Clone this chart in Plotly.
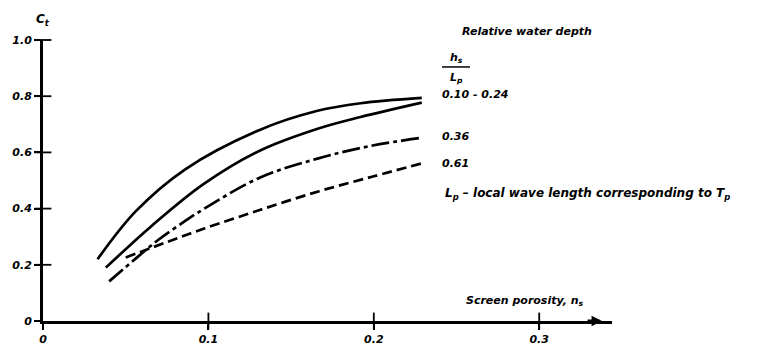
import plotly.graph_objects as go

# ---- data ----
x_010 = [0.033, 0.056, 0.086, 0.131, 0.166, 0.192, 0.229]
y_010 = [0.220, 0.390, 0.540, 0.680, 0.748, 0.775, 0.794]

x_024 = [0.038, 0.066, 0.097, 0.131, 0.167, 0.192, 0.229]
y_024 = [0.190, 0.340, 0.487, 0.606, 0.686, 0.726, 0.777]

x_036 = [0.040, 0.056, 0.070, 0.086, 0.097, 0.131, 0.166, 0.198, 0.229]
y_036 = [0.141, 0.222, 0.290, 0.356, 0.398, 0.510, 0.578, 0.623, 0.652]

x_061 = [0.050, 0.080, 0.097, 0.131, 0.167, 0.200, 0.229]
y_061 = [0.226, 0.292, 0.328, 0.395, 0.462, 0.515, 0.561]

x_tickvals = [0, 0.1, 0.2, 0.3]
x_ticktext = ["0", "0.1", "0.2", "0.3"]
y_tickvals = [0, 0.2, 0.4, 0.6, 0.8, 1.0]
y_ticktext = ["0", "0.2", "0.4", "0.6", "0.8", "1.0"]

series_labels = ["0.10 - 0.24", "0.36", "0.61"]

# ---- layout geometry ----
W, H = 760, 358
ML, MR, MT, MB = 43, 148, 40, 26
PW = W - ML - MR
PH = H - MT - MB


def px(xp):
    return (xp - ML) / PW


def py(yp):
    return (H - MB - yp) / PH


FONT = dict(family="DejaVu Sans, Liberation Sans, sans-serif", size=11, color="black",
            weight="bold", style="italic")
LW = 2.7

fig = go.Figure()
fig.add_trace(go.Scatter(x=x_010, y=y_010, mode="lines", line=dict(color="black", width=LW, shape="spline"),
                         showlegend=False, hoverinfo="skip"))
fig.add_trace(go.Scatter(x=x_024, y=y_024, mode="lines", line=dict(color="black", width=LW, shape="spline"),
                         showlegend=False, hoverinfo="skip"))
fig.add_trace(go.Scatter(x=x_036, y=y_036, mode="lines",
                         line=dict(color="black", width=LW, shape="spline", dash="18px,4px,4px,4px"),
                         showlegend=False, hoverinfo="skip"))
fig.add_trace(go.Scatter(x=x_061, y=y_061, mode="lines",
                         line=dict(color="black", width=LW, shape="spline", dash="10px,5px"),
                         showlegend=False, hoverinfo="skip"))

# tick marks that cross the axes (centred markers at the tick values)
fig.add_trace(go.Scatter(x=x_tickvals[1:], y=[0] * (len(x_tickvals) - 1), mode="markers",
                         marker=dict(symbol="line-ns-open", size=12, color="black",
                                     line=dict(color="black", width=1.8)),
                         cliponaxis=False, showlegend=False, hoverinfo="skip"))
fig.add_trace(go.Scatter(x=[0] * (len(y_tickvals) - 1), y=y_tickvals[1:], mode="markers",
                         marker=dict(symbol="line-ew-open", size=12, color="black",
                                     line=dict(color="black", width=1.8)),
                         cliponaxis=False, showlegend=False, hoverinfo="skip"))

xr = [0, 0.344]
yr = [0, 1.0]
common_ax = dict(showgrid=False, zeroline=False, tickmode="array", tickcolor="black",
                 tickwidth=1.8, ticklen=6, tickfont=FONT, fixedrange=True,
                 showline=True, linecolor="black", linewidth=3, ticks="outside")

fig.update_layout(
    width=W, height=H,
    margin=dict(l=ML, r=MR, t=MT, b=MB, pad=0),
    paper_bgcolor="white", plot_bgcolor="white",
    hovermode=False,
    xaxis=dict(range=xr, tickvals=x_tickvals, ticktext=x_ticktext, **common_ax),
    yaxis=dict(range=yr, tickvals=y_tickvals, ticktext=y_ticktext, **common_ax),
)

ann = []


def txt(text, xp, yp, xanchor="left", size=11):
    f = dict(FONT)
    f["size"] = size
    ann.append(dict(text=text, x=px(xp), y=py(yp), xref="paper", yref="paper",
                    xanchor=xanchor, yanchor="middle", showarrow=False, font=f))


txt("C<sub>t</sub>", 43, 19, "center", 12)
txt("Relative water depth", 460, 31)
txt("h<sub>s</sub>", 456, 59, "center")
txt("L<sub>p</sub>", 456, 79, "center")
txt(series_labels[0], 440, 97)
txt(series_labels[1], 440, 140)
txt(series_labels[2], 440, 168)
txt("L<sub>p</sub> \u2013 local wave length corresponding to T<sub>p</sub>", 443, 200, size=12)
txt("Screen porosity, n<sub>s</sub>", 464, 311)

# arrowhead on the x axis
ann.append(dict(x=0.338, y=0, xref="x", yref="y", ax=-16, ay=0, axref="pixel", ayref="pixel",
                text="", showarrow=True, arrowhead=2, arrowsize=0.7, arrowwidth=3, arrowcolor="black"))

fig.update_layout(annotations=ann)
fig.add_shape(type="line", xref="paper", yref="paper", x0=px(442), x1=px(470), y0=py(68), y1=py(68),
              line=dict(color="black", width=1.5))

fig.write_html("out.html")
